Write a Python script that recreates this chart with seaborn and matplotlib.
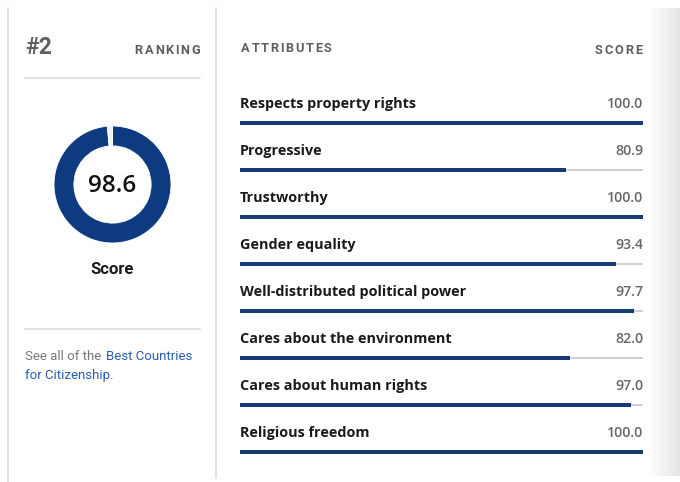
import matplotlib
matplotlib.use("Agg")
import matplotlib.pyplot as plt
import numpy as np
import pandas as pd
import seaborn as sns
from matplotlib.colors import LinearSegmentedColormap

# Data
attributes = ["Respects property rights", "Progressive", "Trustworthy", "Gender equality",
              "Well-distributed political power", "Cares about the environment",
              "Cares about human rights", "Religious freedom"]
scores = [100.0, 80.9, 100.0, 93.4, 97.7, 82.0, 97.0, 100.0]
overall_score = 98.6
ranking = 2

BLUE = "#0e3b80"
BAR_BLUE = "#173c75"
TRACK = "#d2d2d6"
GREY_TXT = "#5f5f5f"
LINE = "#dcdcdc"

sns.set_theme(style="white")
plt.rcParams["font.family"] = ["Roboto", "DejaVu Sans"]

W, H = 680, 482
fig = plt.figure(figsize=(W / 100, H / 100), dpi=100)
fig.patch.set_facecolor("white")
renderer = fig.canvas.get_renderer()

# background axes in pixel coordinates
bg = fig.add_axes([0, 0, 1, 1])
bg.set_xlim(0, W)
bg.set_ylim(H, 0)
bg.axis("off")


def tracked(x, y, s, spacing, ha="left", **kw):
    # draw letter-spaced text, one character at a time
    widths = []
    for ch in s:
        t = bg.text(0, 0, ch, **kw)
        widths.append(t.get_window_extent(renderer).width)
        t.remove()
    total = sum(widths) + spacing * (len(s) - 1)
    pos = x if ha == "left" else x - total
    for ch, w in zip(s, widths):
        bg.text(pos, y, ch, ha="left", **kw)
        pos += w + spacing


# right side shadow
shade = LinearSegmentedColormap.from_list("shade", ["#ffffff", "#e6e6e6"])
grad = np.linspace(0, 1, 64).reshape(1, -1)
bg.imshow(grad, cmap=shade, extent=[648, 680, 476, 8], aspect="auto", zorder=0)

# frame lines
bg.plot([8, 8], [8, 482], color=LINE, lw=1.2)
bg.plot([216, 216], [8, 478], color=LINE, lw=1.2)
bg.plot([25, 200], [78, 78], color=LINE, lw=1.2)
bg.plot([25, 200], [329, 329], color=LINE, lw=1.2)

hdr = dict(fontsize=9.2, fontweight="bold", color=GREY_TXT, va="center")

# left panel text
bg.text(25, 48, f"#{ranking}", fontsize=16.5, fontweight="bold", color=GREY_TXT, va="center", ha="left")
tracked(200, 50, "RANKING", 1.7, ha="right", **hdr)
bg.text(112.5, 270, "Score", fontsize=12, fontweight="bold", color="#1a1a1a", va="center", ha="center")
bg.text(25, 356, "See all of the", fontsize=9.5, color="#777777", va="center", ha="left")
bg.text(106, 356, "Best Countries", fontsize=9.5, color="#2a5db0", va="center", ha="left")
bg.text(25, 376, "for Citizenship.", fontsize=9.5, color="#2a5db0", va="center", ha="left")

# right panel headers
tracked(241, 49, "ATTRIBUTES", 1.7, ha="left", **hdr)
tracked(642, 51, "SCORE", 1.7, ha="right", **hdr)

# donut
cx, cy, r = 112.5, 184.5, 58.5
dax = fig.add_axes([(cx - r) / W, 1 - (cy + r) / H, 2 * r / W, 2 * r / H])
dax.pie([overall_score, 100 - overall_score], colors=[BLUE, "#eef1f6"], startangle=90,
        counterclock=False, radius=1.0,
        wedgeprops=dict(width=0.34, edgecolor="white", linewidth=0.6))
dax.set_xlim(-1, 1)
dax.set_ylim(-1, 1)
dax.set_aspect("equal")
dax.axis("off")
dax.text(0, -0.03, f"{overall_score:.1f}", fontsize=17.5, fontweight="semibold", color="#111111",
         ha="center", va="center", family=["Open Sans", "DejaVu Sans"])

# attribute bars
df = pd.DataFrame({"attribute": attributes, "score": scores})
x0, x1 = 240, 643
y_top, y_bot = 123 - 47, 123 + 47 * 7.5
ax = fig.add_axes([x0 / W, 1 - y_bot / H, (x1 - x0) / W, (y_bot - y_top) / H])
ypos = np.arange(len(attributes))
ax.barh(ypos, [100.0] * len(attributes), height=2.2 / 47, color=TRACK, linewidth=0, zorder=1)
sns.barplot(data=df, y="attribute", x="score", orient="h", color=BAR_BLUE, width=3.2 / 47,
            saturation=1, linewidth=0, ax=ax, zorder=2)
ax.set_xlim(0, 100)
ax.set_ylim(7.5, -1)
ax.axis("off")
for i, (name, val) in enumerate(zip(attributes, scores)):
    ax.text(0, i - 19 / 47, name, fontsize=10.4, fontweight="bold", color="#1a1a1a",
            ha="left", va="center", family=["Open Sans", "DejaVu Sans"])
    ax.text(100, i - 19 / 47, f"{val:.1f}", fontsize=10.2, fontweight="semibold", color="#666666",
            ha="right", va="center", family=["Open Sans", "DejaVu Sans"])

fig.savefig("out.png", dpi=100, facecolor="white")
